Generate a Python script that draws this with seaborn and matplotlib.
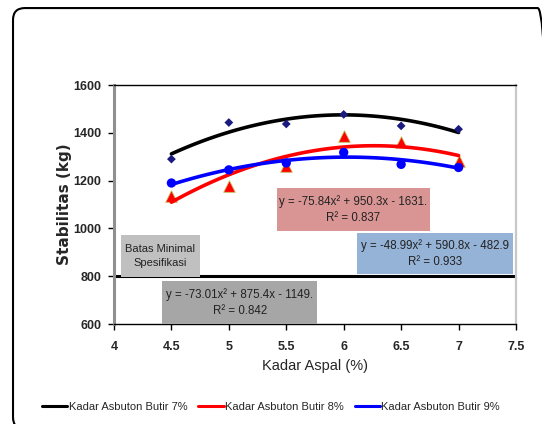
import numpy as np
import pandas as pd
import seaborn as sns
import matplotlib.pyplot as plt
from matplotlib.patches import FancyBboxPatch, Rectangle
from matplotlib.lines import Line2D

kadar_aspal = [4.5, 5.0, 5.5, 6.0, 6.5, 7.0]
stab_7 = [1290, 1443, 1437, 1477, 1429, 1415]
stab_8 = [1135, 1177, 1260, 1388, 1362, 1280]
stab_9 = [1190, 1245, 1274, 1318, 1268, 1255]

# trendline coefficients (a, b, c) as printed on the chart
coef_7 = [-73.01, 875.4, -1149]
coef_8 = [-75.84, 950.3, -1631]
coef_9 = [-48.99, 590.8, -482.9]
r2 = {"7": 0.842, "8": 0.837, "9": 0.933}

labels = ["Kadar Asbuton Butir 7%", "Kadar Asbuton Butir 8%", "Kadar Asbuton Butir 9%"]
batas_minimal = 800

sns.set_style("white")
plt.rcParams["font.family"] = ["Liberation Sans", "DejaVu Sans"]

fig = plt.figure(figsize=(5.42, 4.24), dpi=100)
ax = fig.add_axes([0.2103, 0.2358, 0.7417, 0.5637])

# outer rounded frame (runs off at right / bottom like the source)
frame = FancyBboxPatch((0.024, -0.012), 0.99, 0.993, boxstyle="round,pad=0,rounding_size=0.022",
                       transform=fig.transFigure, fill=False, edgecolor="black", lw=1.5,
                       mutation_aspect=542 / 424, clip_on=False)
fig.patches.append(frame)

xs = np.linspace(4.5, 7.0, 100)
curves = pd.DataFrame({
    "x": np.concatenate([xs, xs, xs]),
    "y": np.concatenate([np.polyval(coef_7, xs), np.polyval(coef_8, xs), np.polyval(coef_9, xs)]),
    "seri": np.repeat(labels, len(xs)),
})
palette = {labels[0]: "black", labels[1]: "red", labels[2]: "blue"}

ax.axhline(batas_minimal, color="black", lw=2.2, zorder=2)

sns.lineplot(data=curves, x="x", y="y", hue="seri", palette=palette, lw=2.6, ax=ax,
             legend=False, zorder=3)
sns.scatterplot(x=kadar_aspal, y=stab_9, color="blue", marker="o", s=45, edgecolor="none",
                ax=ax, zorder=4)
sns.scatterplot(x=kadar_aspal, y=stab_8, color="red", marker="^", s=70, edgecolor="#c8c060",
                linewidth=0.6, ax=ax, zorder=2.5)
sns.scatterplot(x=kadar_aspal, y=stab_7, color="#1a1a80", marker="D", s=20, edgecolor="none",
                ax=ax, zorder=4)


def eq_box(x0, x1, y0, y1, color, txt, size=8.3):
    ax.add_patch(Rectangle((x0, y0), x1 - x0, y1 - y0, facecolor=color, edgecolor="none", zorder=5))
    ax.text((x0 + x1) / 2, (y0 + y1) / 2, txt, ha="center", va="center", fontsize=size,
            linespacing=1.45, zorder=6, color="#222222")


eq_box(5.42, 6.75, 989, 1169, "#d99594",
       f"y = {coef_8[0]}x² + {coef_8[1]}x - {abs(coef_8[2]):.0f}.\nR² = {r2['8']}")
eq_box(6.12, 7.47, 809, 981, "#95b3d7",
       f"y = {coef_9[0]}x² + {coef_9[1]}x - {abs(coef_9[2])}\nR² = {r2['9']}")
eq_box(4.42, 5.77, 600, 780, "#a6a6a6",
       f"y = {coef_7[0]}x² + {coef_7[1]}x - {abs(coef_7[2]):.0f}.\nR² = {r2['7']}")
eq_box(4.06, 4.75, 797, 972, "#c0c0c0", "Batas Minimal\nSpesifikasi", size=8)

ax.set_xlim(4, 7.5)
ax.set_ylim(600, 1600)
ax.set_xticks(np.arange(4, 7.51, 0.5))
ax.set_yticks(np.arange(600, 1601, 200))
ax.set_xticklabels(["4", "4.5", "5", "5.5", "6", "6.5", "7", "7.5"])
ax.tick_params(axis="both", which="both", length=4, width=1, color="black",
               labelsize=9, direction="out", bottom=True, left=True)
for t in ax.get_xticklabels() + ax.get_yticklabels():
    t.set_fontweight("bold")
ax.tick_params(axis="x", pad=8)
ax.tick_params(axis="y", pad=5)

for side in ["top", "bottom"]:
    ax.spines[side].set_color("black")
    ax.spines[side].set_linewidth(1)
ax.spines["left"].set_color("#909090")
ax.spines["left"].set_linewidth(2.2)
ax.spines["right"].set_color("#c8c8c8")
ax.spines["right"].set_linewidth(1.6)

ax.set_xlabel("Kadar Aspal (%)", fontsize=10.5)
ax.xaxis.set_label_coords(0.5, -0.145)
ax.set_ylabel("Stabilitas (kg)", fontsize=11, fontweight="bold", family="DejaVu Sans")
ax.yaxis.set_label_coords(-0.105, 0.5)

handles = [Line2D([], [], color=palette[l], lw=2.2) for l in labels]
fig.legend(handles, labels, loc="center", bbox_to_anchor=(0.5, 0.04), ncol=3, frameon=False,
           fontsize=8, handlelength=2.3, handletextpad=0.1, columnspacing=1.0)

fig.savefig("out.png", dpi=100, facecolor="white")
